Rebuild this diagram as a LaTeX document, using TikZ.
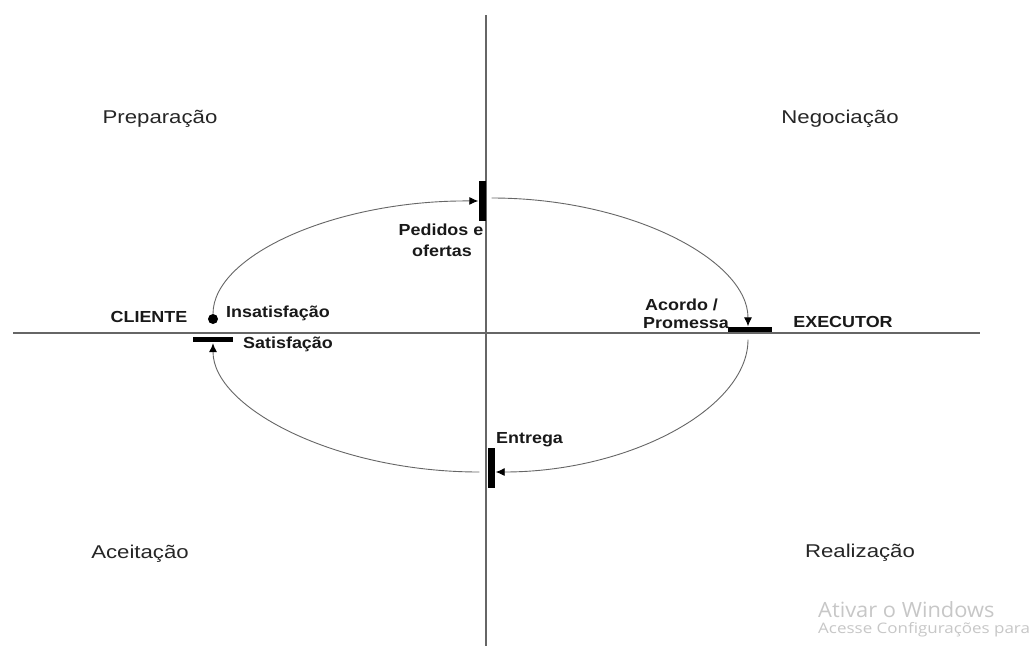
\documentclass[tikz,border=0pt]{standalone}
\usepackage{fontspec}
\setmainfont{Liberation Sans}
\newfontfamily\wmfont{Open Sans}
\usetikzlibrary{arrows.meta}
\begin{document}
\begin{tikzpicture}[x=1pt,y=-1pt,
  axis/.style={draw=black!60, line width=1.6pt},
  flow/.style={draw=black!60, line width=0.9pt},
  tip/.style={-{Latex[length=9pt,width=8pt,color=black]}},
  phase/.style={font=\fontsize{18.5}{20}\selectfont, xscale=1.2, text=black!85, inner sep=0, anchor=base},
  lbl/.style={font=\bfseries\fontsize{16}{17}\selectfont, xscale=1.12, text=black!90, inner sep=0},
  vbar/.style={fill=black, minimum width=7pt, minimum height=40pt, inner sep=0},
  hbar/.style={fill=black, minimum width=40pt, minimum height=5pt, inner sep=0},
  wm/.style={text=black!22, inner sep=0, anchor=base west}
]
\useasboundingbox (0,0) rectangle (1030,646);
\fill[white] (0,0) rectangle (1030,646);
% axes
\coordinate (vtop) at (486,15);
\coordinate (vbot) at (486,646);
\coordinate (hl) at (13,333);
\coordinate (hr) at (980,333);
\draw[axis] (vtop) -- (vbot);
\draw[axis] (hl) -- (hr);
% bars and dot
\node[vbar] (pbar) at (482,201) {};
\node[vbar] (ebar) at (491,468) {};
\node[hbar, minimum width=44pt] (abar) at (750,329) {};
\node[hbar] (sbar) at (213,339.5) {};
\node[circle, fill=black, minimum size=10pt, inner sep=0] (dot) at (213,319) {};
% flow
\draw[flow, tip] (dot.north) .. controls (213,255) and (336,200) .. (pbar.west);
\draw[flow, tip] ([shift={(6,-3)}]pbar.east) .. controls (630,198) and (748,260) .. ([xshift=-2pt]abar.north);
\draw[flow, tip] ([shift={(-2,8)}]abar.south) .. controls (748,408) and (630,472) .. ([shift={(1,4)}]ebar.east);
\draw[flow, tip] ([shift={(-8,4)}]ebar.west) .. controls (336,472) and (213,408) .. ([yshift=-1pt]sbar.south);
% phase labels
\node[phase] (prep) at (160,123) {Preparação};
\node[phase] (neg) at (840,123) {Negociação};
\node[phase] (acei) at (140,558) {Aceitação};
\node[phase] (real) at (860,557) {Realização};
% bold labels
\node[lbl, anchor=base] (cli) at (149,322) {CLIENTE};
\node[lbl, anchor=base] (exe) at (843,327) {EXECUTOR};
\node[lbl, anchor=base west] (insat) at (226,317) {Insatisfação};
\node[lbl, anchor=base west] (sat) at (243,348) {Satisfação};
\node[lbl, anchor=base west] (acordo) at (645,310) {Acordo /};
\node[lbl, anchor=base west] (prom) at (643,328) {Promessa};
\node[lbl, anchor=base] (ped) at (441,235) {Pedidos e};
\node[lbl, anchor=base] (ofe) at (442,256) {ofertas};
\node[lbl, anchor=base west] (ent) at (496,443) {Entrega};
% watermark
\node[wm, font=\wmfont\fontsize{21}{22}\selectfont, xscale=1.04] (wm1) at (818,617) {Ativar o Windows};
\node[wm, font=\wmfont\fontsize{14.5}{16}\selectfont, xscale=1.17] (wm2) at (818,633) {Acesse Configurações para};
\end{tikzpicture}
\end{document}
